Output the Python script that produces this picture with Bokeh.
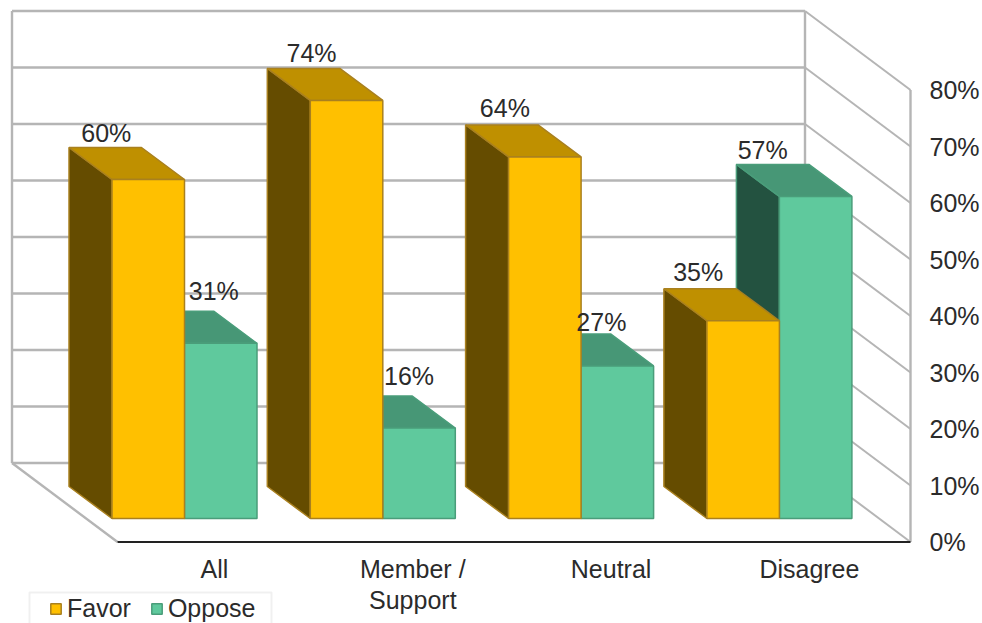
from bokeh.plotting import figure
from bokeh.models import Range1d, FixedTicker, Legend, LegendItem, ColumnDataSource, BoxAnnotation
from bokeh.core.properties import value
from bokeh.embed import file_html
from bokeh.resources import INLINE

# ---- data
categories = ["All", "Member /\nSupport", "Neutral", "Disagree"]
favor = [60, 74, 64, 35]
oppose = [31, 16, 27, 57]
tick_values = [0, 10, 20, 30, 40, 50, 60, 70, 80]
tick_labels = ["0%", "10%", "20%", "30%", "40%", "50%", "60%", "70%", "80%"]

# ---- projection
PX_X = 198.3   # pixels per category
PX_Y = 5.65    # pixels per percentage point
WALL_DX, WALL_DY = -105.5 / PX_X, 79 / PX_Y
BAR_DX, BAR_DY = -43 / PX_X, 32 / PX_Y
BAR_W = 72.5 / PX_X
BAR_BASE = 23.5 / PX_Y
SPLIT = -30 / PX_X        # favor/oppose boundary relative to the category label
FONT = "Liberation Sans"
TEXT = "#2b2b2b"
GRID = "#b5b5b5"
fav_nudge = [(1, 15), (8, 15), (3, 17), (-2, 17)]
opp_nudge = [(36, 20), (33, 20), (27, 12), (-10, 14)]

W, H = 982, 623
FRAME_W = 916
X0, Y0 = 214, 541.5       # canvas position of category 0 / 0 %
p = figure(width=W, height=H, output_backend="svg", toolbar_location=None,
           x_range=Range1d(-X0 / PX_X, (FRAME_W - X0) / PX_X),
           y_range=Range1d((Y0 - H) / PX_Y, Y0 / PX_Y),
           y_axis_location="right", x_axis_location=None,
           min_border_left=0, min_border_top=0, min_border_bottom=0,
           min_border_right=W - FRAME_W)
p.outline_line_color = None
p.grid.visible = False
p.background_fill_color = "white"

# ---- value axis
ax = p.yaxis[0]
ax.ticker = FixedTicker(ticks=tick_values)
ax.major_label_overrides = dict(zip(tick_values, tick_labels))
ax.axis_line_color = None
ax.major_tick_line_color = None
ax.minor_tick_line_color = None
ax.major_label_standoff = 7
ax.major_label_text_font = FONT
ax.major_label_text_font_size = "25px"
ax.major_label_text_color = TEXT
ax.major_label_text_font_style = "normal"

# ---- walls and floor
x_left = (117 - X0) / PX_X
x_right = (910 - X0) / PX_X
top = tick_values[-1]
wall_xs, wall_ys = [], []
for t in tick_values:
    wall_xs.append([x_left + WALL_DX, x_right + WALL_DX])
    wall_ys.append([t + WALL_DY, t + WALL_DY])
p.multi_line(wall_xs, wall_ys, line_color=GRID, line_width=2.6)
p.multi_line([[x_right + WALL_DX, x_right] for t in tick_values],
             [[t + WALL_DY, t] for t in tick_values],
             line_color=GRID, line_width=2)
p.multi_line([[x_right + WALL_DX, x_right + WALL_DX], [x_right, x_right],
              [x_left + WALL_DX, x_left + WALL_DX], [x_left + WALL_DX, x_left]],
             [[WALL_DY, top + WALL_DY], [0, top], [WALL_DY, top + WALL_DY], [WALL_DY, 0]],
             line_color=GRID, line_width=2.4)
p.line([x_left, x_right], [0, 0], line_color="#222222", line_width=2)


# ---- bars
def draw(values, x0, front, side, topc, edge):
    lefts = [i + x0 for i in range(len(values))]
    rights = [l + BAR_W for l in lefts]
    b = BAR_BASE
    side_xs = [[l, l + BAR_DX, l + BAR_DX, l] for l in lefts]
    side_ys = [[b, b + BAR_DY, b + v + BAR_DY, b + v] for v in values]
    top_xs = [[l, l + BAR_DX, r + BAR_DX, r] for l, r in zip(lefts, rights)]
    top_ys = [[b + v, b + v + BAR_DY, b + v + BAR_DY, b + v] for v in values]
    p.patches(side_xs, side_ys, fill_color=side, line_color=edge, line_width=1.5)
    p.patches(top_xs, top_ys, fill_color=topc, line_color=edge, line_width=1.5)
    return p.quad(left=lefts, right=rights, bottom=[b] * len(values),
                  top=[b + v for v in values], fill_color=front,
                  line_color=edge, line_width=1.5)


r_opp = draw(oppose, SPLIT, "#5fc99d", "#235240", "#479776", "#4a9d7a")
r_fav = draw(favor, SPLIT - BAR_W, "#ffc000", "#654c00", "#bf9000", "#a9801f")


# ---- value labels
def labels(values, x0, nudges):
    src = ColumnDataSource(dict(
        x=[i + x0 + BAR_W / 2 + BAR_DX for i in range(len(values))],
        y=[BAR_BASE + v + BAR_DY for v in values],
        t=[f"{v}%" for v in values],
        dx=[n[0] for n in nudges],
        dy=[-n[1] for n in nudges]))
    p.text(x="x", y="y", text="t", x_offset="dx", y_offset="dy", source=src,
           text_align="center", text_baseline="alphabetic",
           text_font=value(FONT), text_font_size="25px", text_color=TEXT)


labels(oppose, SPLIT, opp_nudge)
labels(favor, SPLIT - BAR_W, fav_nudge)

# ---- category labels (on the floor's front edge)
p.text(x=list(range(len(categories))), y=[0] * len(categories), text=categories,
       y_offset=[13] * len(categories), text_align="center", text_baseline="top",
       text_font=value(FONT), text_font_size="25px", text_color=TEXT,
       text_line_height=1.12)

# ---- legend
p.add_layout(BoxAnnotation(left=29, right=271, top=592, bottom=640,
                           left_units="canvas", right_units="canvas",
                           top_units="canvas", bottom_units="canvas",
                           fill_color="white", fill_alpha=1,
                           line_color="#cccccc", line_width=2))
legend = Legend(items=[LegendItem(label="Favor", renderers=[r_fav]),
                       LegendItem(label="Oppose", renderers=[r_opp])],
                orientation="horizontal", location=(49, 0),
                glyph_width=13, glyph_height=13, spacing=19, padding=0,
                margin=0, label_standoff=5,
                label_text_font=FONT, label_text_font_size="25px",
                label_text_color=TEXT, border_line_color=None,
                background_fill_alpha=0)
p.add_layout(legend, "center")

open("out.html", "w").write(file_html(p, INLINE))
